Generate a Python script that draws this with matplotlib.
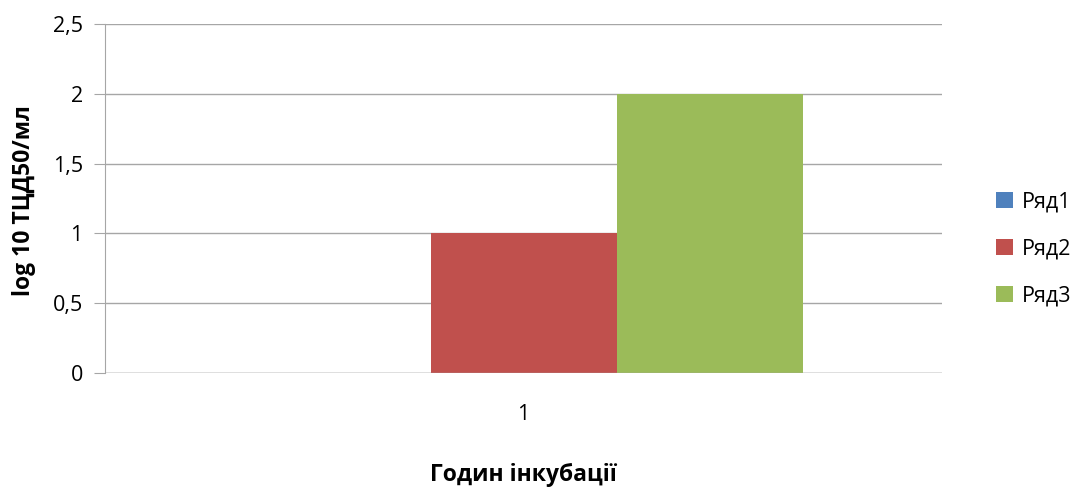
import matplotlib
matplotlib.use("Agg")
import matplotlib.pyplot as plt
import numpy as np

categories = ["1"]
series_names = ["Ряд1", "Ряд2", "Ряд3"]
series_values = [[0.0], [1.0], [2.0]]
colors = ["#4F81BD", "#C0504D", "#9BBB59"]
yticks = [0, 0.5, 1, 1.5, 2, 2.5]
ytick_labels = ["0", "0,5", "1", "1,5", "2", "2,5"]

plt.rcParams['font.family'] = ['Open Sans', 'DejaVu Sans']

fig = plt.figure(figsize=(10.76, 4.88), dpi=100)
ax = fig.add_axes([105/1076, 1-373/488, (942-105)/1076, (373-24)/488])

n = len(series_names)
width = 1.0 / (n + 1.5)
x = np.arange(len(categories)) + 1
for i, (name, vals) in enumerate(zip(series_names, series_values)):
    ax.bar(x + (i - (n - 1) / 2) * width, vals, width=width, color=colors[i],
           label=name, zorder=3)

ax.set_xlim(0.5, 1.5)
ax.set_ylim(0, 2.5)
ax.set_yticks(yticks)
ax.set_yticklabels(ytick_labels)
ax.set_xticks(x)
ax.set_xticklabels(categories)
ax.grid(axis='y', color='#A6A6A6', linewidth=1, zorder=0)
for s in ['top', 'right', 'bottom']:
    ax.spines[s].set_visible(False)
ax.spines['left'].set_color('#A6A6A6')
ax.axhline(0, color='#A6A6A6', linewidth=1, zorder=4)
ax.tick_params(axis='y', length=8, color='#A6A6A6', labelsize=15.5, pad=8)
ax.tick_params(axis='x', length=0, labelsize=15.5, pad=22)
fig.text(24/1076, 1-201/488, "log 10 ТЦД50/мл", fontsize=16.5, fontweight='bold',
         ha='center', va='center', rotation=90)
fig.text(523/1076, 1-475/488, "Годин інкубації", fontsize=16.5, fontweight='bold',
         ha='center', va='center')

handles, labels = ax.get_legend_handles_labels()
fig.legend(handles, labels, loc='center left', bbox_to_anchor=(996/1076, 1-249/488),
           frameon=False, fontsize=15.5, handlelength=0.8, handleheight=0.8,
           labelspacing=1.2, handletextpad=0.4, borderaxespad=0, borderpad=0)

fig.savefig("out.png", dpi=100)
